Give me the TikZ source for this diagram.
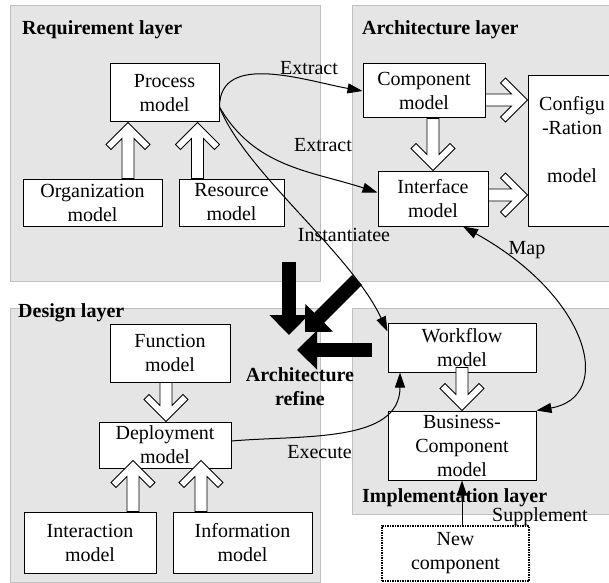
\documentclass[tikz,border=0pt]{standalone}
\usepackage{fontspec}
\setmainfont{Liberation Serif}
\usetikzlibrary{arrows.meta, calc}

\newcommand{\diagfont}{\fontsize{20}{24}\selectfont}

\tikzset{
  layer/.style={draw=gray!50, fill=gray!20, line width=0.8pt},
  layer-title/.style={anchor=west, inner sep=0pt, font=\diagfont\bfseries},
  model/.style={draw, line width=1pt, fill=white, align=center, inner sep=0pt},
  link/.style={line width=1pt, -{Triangle[length=15pt,width=10pt]}},
  refine/.style={line width=14pt, -{Triangle[length=20pt,width=38pt]}},
  hollow/.style={draw, fill=white, line width=0.8pt, to path={
      ($(\tikztostart)!6pt!90:(\tikztotarget)$)
      -- ($(\tikztotarget)!16pt!(\tikztostart)!6pt!-90:(\tikztostart)$)
      -- ($(\tikztotarget)!27pt!(\tikztostart)!17pt!-90:(\tikztostart)$)
      -- ($(\tikztotarget)!22pt!(\tikztostart)!22pt!-90:(\tikztostart)$)
      -- (\tikztotarget)
      -- ($(\tikztotarget)!22pt!(\tikztostart)!22pt!90:(\tikztostart)$)
      -- ($(\tikztotarget)!27pt!(\tikztostart)!17pt!90:(\tikztostart)$)
      -- ($(\tikztotarget)!16pt!(\tikztostart)!6pt!90:(\tikztostart)$)
      -- ($(\tikztostart)!6pt!-90:(\tikztotarget)$)
      -- cycle}}
}

\begin{document}
\begin{tikzpicture}[x=1pt, y=1pt, font=\diagfont]
    \useasboundingbox (0,0) rectangle (609,582);

    \draw[layer] (10,301) rectangle (320,577);
    \draw[layer] (352,301) rectangle (614,577);
    \draw[layer] (10,0) rectangle (320,274);
    \draw[layer] (352,68) rectangle (614,274);

    \node[layer-title] at (22,552) (req-title) {Requirement layer};
    \node[layer-title] at (362,552) (arch-title) {Architecture layer};
    \node[layer-title] at (18,269) (design-title) {Design layer};
    \node[layer-title] at (362,84) (impl-title) {Implementation layer};

    \node[model, minimum width=109, minimum height=58] at (164.5,489) (process-model) {Process\\model};
    \node[model, minimum width=139, minimum height=47] at (92.5,379.5) (org-model) {Organization\\model};
    \node[model, minimum width=105, minimum height=47] at (231.5,379.5) (resource-model) {Resource\\model};

    \node[model, minimum width=122, minimum height=54] at (424,491) (component-model) {Component\\model};
    \node[model, minimum width=110, minimum height=55] at (433,383.5) (interface-model) {Interface\\model};
    \node[model, minimum width=88, minimum height=150] at (572,431) (config-model) {Configu\\-Ration\\~\\model\\~};

    \node[model, minimum width=120, minimum height=58] at (170,229) (function-model) {Function\\model};
    \node[model, minimum width=132, minimum height=46] at (165,137) (deploy-model) {Deployment\\model};
    \node[model, minimum width=132, minimum height=61] at (90,39.5) (interaction-model) {Interaction\\model};
    \node[model, minimum width=139, minimum height=61] at (242.5,39.5) (information-model) {Information\\model};

    \node[model, minimum width=148, minimum height=49] at (462,234.5) (workflow-model) {Workflow\\model};
    \node[model, minimum width=148, minimum height=69] at (462,136.5) (business-model) {Business-\\Component\\model};
    \node[model, dash pattern=on 1.5pt off 1pt, line width=2pt, minimum width=147, minimum height=55] at (455.5,28.5) (new-component) {New\\component};

    \node[align=center, font=\diagfont\bfseries] at (300,195) (arch-refine) {Architecture\\refine};

    \coordinate (refine-down) at (289,320);
    \coordinate (refine-diag) at (357,302);
    \coordinate (refine-left) at (372,232);
    \draw[refine] (refine-down) -- (289,247);
    \draw[refine] (refine-diag) -- (305,250);
    \draw[refine] (refine-left) -- (297,232);

    \draw[hollow] ([xshift=35.5pt]org-model.north) to ([xshift=-36.5pt]process-model.south);
    \draw[hollow] ([xshift=-34pt]resource-model.north) to ([xshift=33pt]process-model.south);
    \draw[hollow] ([xshift=9pt]component-model.south) to (interface-model.north);
    \draw[hollow] ([yshift=-9pt]component-model.east) to ([yshift=51pt]config-model.west);
    \draw[hollow] ([yshift=3.5pt]interface-model.east) to ([yshift=-44pt]config-model.west);
    \draw[hollow] ([xshift=-4pt]function-model.south) to ([xshift=1pt]deploy-model.north);
    \draw[hollow] ([xshift=43pt]interaction-model.north) to ([xshift=-32pt,yshift=8pt]deploy-model.south);
    \draw[hollow] ([xshift=-41.5pt]information-model.north) to ([xshift=36pt,yshift=8pt]deploy-model.south);
    \draw[hollow] ([yshift=5pt]workflow-model.south) to (business-model.north);

    \draw[link] ([yshift=-14pt]process-model.east) to[out=90, in=170] (component-model.west);
    \draw[link] ([yshift=-14pt]process-model.east) to[out=-60, in=162] ([yshift=6pt]interface-model.west);
    \draw[link] ([yshift=-14pt]process-model.east) .. controls (245,410) and (350,330) .. ([yshift=-9pt]workflow-model.north west);
    \draw[link, {Triangle[length=15pt,width=10pt]}-{Triangle[length=15pt,width=10pt]}] ([xshift=30pt]interface-model.south) .. controls (590,285) and (615,185) .. (business-model.north east);
    \draw[link] ([yshift=4pt]deploy-model.east) to[out=5, in=-90] ([xshift=-62pt]workflow-model.south);
    \draw[link] ([xshift=6.5pt]new-component.north) -- (business-model.south);

    \node at (309,514) (extract-comp) {Extract};
    \node at (323,437) (extract-iface) {Extract};
    \node at (344,347) (instantiate) {Instantiatee};
    \node at (527,332) (map) {Map};
    \node at (319.5,130) (execute) {Execute};
    \node at (540,65) (supplement) {Supplement};
\end{tikzpicture}
\end{document}
